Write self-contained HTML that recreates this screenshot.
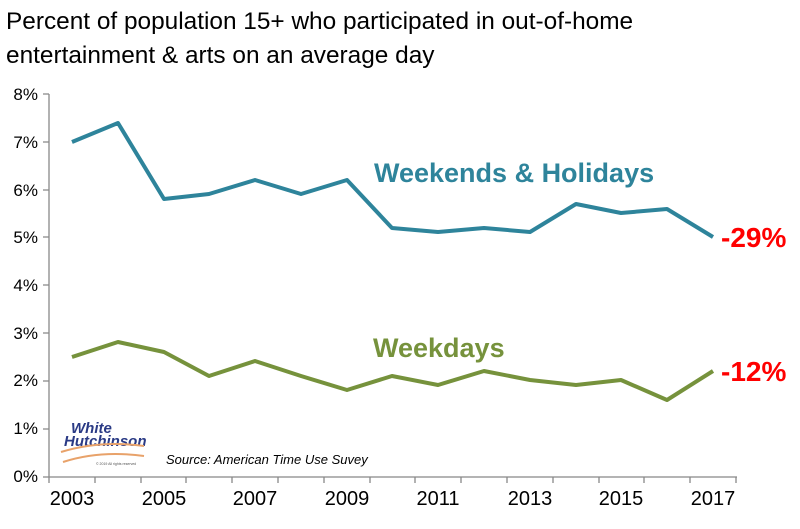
<!DOCTYPE html>
<html><head><style>
body{margin:0;background:#fff;}
svg text{font-family:"Liberation Sans",sans-serif;}
</style></head><body>
<svg width="800" height="524" xmlns="http://www.w3.org/2000/svg">
<text x="6" y="29" font-size="24.4" fill="#000">Percent of population 15+ who participated in out-of-home</text>
<text x="6" y="63" font-size="24.4" fill="#000">entertainment &amp; arts on an average day</text>
<g font-size="17" fill="#000" text-anchor="end">
<text x="38" y="482">0%</text><text x="38" y="434">1%</text><text x="38" y="386">2%</text><text x="38" y="339">3%</text><text x="38" y="291">4%</text><text x="38" y="243">5%</text><text x="38" y="196">6%</text><text x="38" y="148">7%</text><text x="38" y="100">8%</text>
</g>
<g stroke="#888" stroke-width="1.3">
<line x1="49" y1="94" x2="49" y2="477"/>
<line x1="49" y1="477" x2="737" y2="477"/>
<path d="M43 477h6M43 429h6M43 381h6M43 333h6M43 285h6M43 237h6M43 190h6M43 142h6M43 94h6"/>
<path d="M49 477v6M95 477v6M141 477v6M186 477v6M232 477v6M278 477v6M324 477v6M370 477v6M415 477v6M461 477v6M507 477v6M553 477v6M599 477v6M644 477v6M690 477v6M736 477v6"/>
</g>
<g font-size="20" fill="#000" text-anchor="middle">
<text x="72" y="505">2003</text><text x="164" y="505">2005</text><text x="255" y="505">2007</text><text x="347" y="505">2009</text><text x="438" y="505">2011</text><text x="530" y="505">2013</text><text x="621" y="505">2015</text><text x="713" y="505">2017</text>
</g>
<polyline fill="none" stroke="#2e849b" stroke-width="4" stroke-linejoin="round" points="72,142 118,123 164,199 209,194 255,180 301,194 347,180 392,228 438,232 484,228 530,232 576,204 621,213 667,209 713,237"/>
<polyline fill="none" stroke="#76923c" stroke-width="4" stroke-linejoin="round" points="72,357 118,342 164,352 209,376 255,361 301,376 347,390 392,376 438,385 484,371 530,380 576,385 621,380 667,400 713,371"/>
<text x="374" y="182" font-size="27" font-weight="bold" fill="#2e849b">Weekends &amp; Holidays</text>
<text x="373" y="357" font-size="27" font-weight="bold" fill="#76923c">Weekdays</text>
<text x="721" y="247" font-size="28" font-weight="bold" fill="#f00">-29%</text>
<text x="721" y="381" font-size="28" font-weight="bold" fill="#f00">-12%</text>
<text x="166" y="464" font-size="13" font-style="italic" fill="#000">Source: American Time Use Suvey</text>
<g>
<text x="71" y="433" font-size="15" font-weight="bold" font-style="italic" fill="#2a3a85" font-family="Liberation Serif,serif">White</text>
<text x="64" y="446" font-size="15" font-weight="bold" font-style="italic" fill="#2a3a85" font-family="Liberation Serif,serif">Hutchinson</text>
<path d="M61 452 Q100 440 144 446 M63 462 Q100 450 144 456" stroke="#e8a26a" stroke-width="2" fill="none"/>
<text x="96" y="465" font-size="3.5" fill="#555">© 2019 All rights reserved</text>
</g>
</svg>
</body></html>
